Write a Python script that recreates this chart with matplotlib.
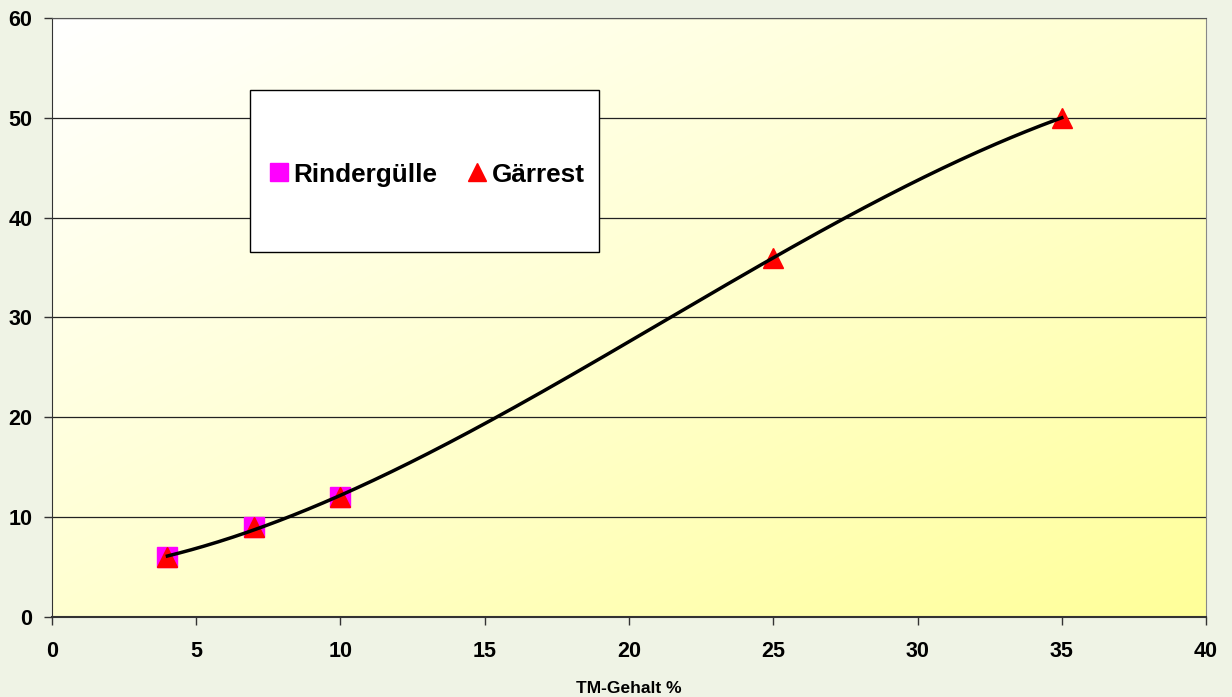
import matplotlib.pyplot as plt
import numpy as np
from matplotlib.colors import LinearSegmentedColormap
from matplotlib.patches import Rectangle

plt.rcParams["font.family"] = ["Liberation Sans", "DejaVu Sans"]
plt.rcParams["font.weight"] = "bold"

# TM-Gehalt (%) and values per substrate
rinder_x = [4, 7, 10]
rinder_y = [6, 9, 12]
gaerrest_x = [4, 7, 10, 25, 35]
gaerrest_y = [6, 9, 12, 36, 50]

x_ticks = [0, 5, 10, 15, 20, 25, 30, 35, 40]
y_ticks = [0, 10, 20, 30, 40, 50, 60]

fig = plt.figure(figsize=(12.32, 6.97), dpi=100, facecolor="#eff3e5")
ax = fig.add_axes([0.0422, 0.1148, 0.9367, 0.8594])
ax.set_xlim(0, 40)
ax.set_ylim(0, 60)

# diagonal white -> yellow fill of the plot area
cmap = LinearSegmentedColormap.from_list("bg", ["#ffffff", "#ffffd0", "#ffff99"])
gx, gy = np.meshgrid(np.linspace(0, 1, 256), np.linspace(0, 1, 256))
grad = (gx + (1 - gy)) / 2
ax.imshow(grad, cmap=cmap, extent=[0, 1, 1, 0], transform=ax.transAxes,
          aspect="auto", zorder=0, interpolation="bicubic")

for yv in y_ticks[1:]:
    ax.axhline(yv, color="#222222", lw=0.9, zorder=1)

# polynomial trend line through the Gärrest points
coef = np.polyfit(gaerrest_x, gaerrest_y, 3)
xs = np.linspace(min(gaerrest_x), max(gaerrest_x), 300)

ax.plot(rinder_x, rinder_y, "s", color="#ff00ff", markersize=14.5,
        label="Rindergülle", zorder=3)
ax.plot(gaerrest_x, gaerrest_y, "^", color="#ff0000", markersize=14.5,
        label="Gärrest", zorder=4)
ax.plot(xs, np.polyval(coef, xs), color="black", lw=2.5, zorder=5)

ax.set_xticks(x_ticks)
ax.set_yticks(y_ticks)
ax.tick_params(axis="both", direction="out", length=6, width=1,
               color="#333333", labelsize=15.5, pad=11)
ax.tick_params(axis="y", pad=8)
for lab in ax.get_xticklabels() + ax.get_yticklabels():
    lab.set_fontweight("bold")

ax.spines["left"].set_color("#333333")
ax.spines["bottom"].set_color("#333333")
ax.spines["bottom"].set_linewidth(1.5)
ax.spines["right"].set_color("#888888")
ax.spines["top"].set_color("#555555")

ax.set_xlabel("TM-Gehalt %", fontsize=12.5, fontweight="bold", labelpad=14)

# legend box
ax.add_patch(Rectangle((0.172, 0.609), 0.302, 0.271, transform=ax.transAxes,
                       facecolor="white", edgecolor="black", lw=1, zorder=6))
leg = ax.legend(loc="center", bbox_to_anchor=(0.1746, 0.603, 0.302, 0.271),
                ncol=2, frameon=False, fontsize=18.8, handlelength=0.6,
                handletextpad=0.25, columnspacing=1.25, markerscale=0.85)
leg.set_zorder(7)
for t in leg.get_texts():
    t.set_fontweight("bold")

fig.savefig("out.png", dpi=100, facecolor=fig.get_facecolor())
